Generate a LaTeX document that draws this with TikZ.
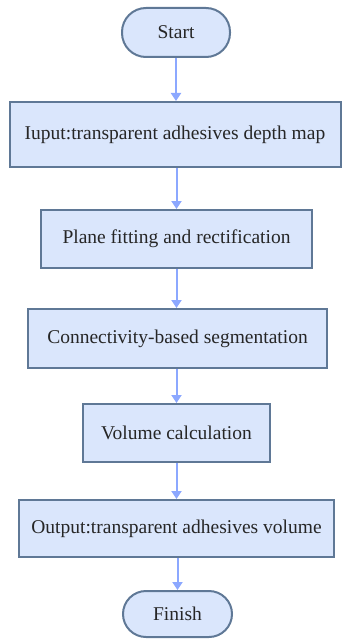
\documentclass[tikz,border=0pt]{standalone}
\usepackage{fontspec}
\setmainfont{Liberation Serif}
\usetikzlibrary{arrows.meta}
\definecolor{boxfill}{HTML}{DAE6FC}
\definecolor{boxline}{HTML}{5F7896}
\definecolor{arrowc}{HTML}{8CA8FF}
\begin{document}
\begin{tikzpicture}[x=1pt,y=-1pt,
  stepbox/.style={draw=boxline,fill=boxfill,line width=2pt,font=\fontsize{19.5}{22}\selectfont,text=black!85,inner sep=0pt},
  arr/.style={draw=arrowc,line width=2pt,-{Triangle[length=8pt,width=10pt]}}]
\useasboundingbox (0,0) rectangle (342,639);
\node[stepbox,rounded corners=24pt,minimum width=108pt,minimum height=49pt] (start) at (176,32.5) {Start};
\node[stepbox,minimum width=331pt,minimum height=65pt] (in) at (175,134.5) {Iuput:transparent adhesives depth map};
\node[stepbox,minimum width=271pt,minimum height=58pt] (plane) at (176.5,239) {Plane fitting and rectification};
\node[stepbox,minimum width=299pt,minimum height=59pt] (seg) at (177.5,338.5) {Connectivity-based segmentation};
\node[stepbox,minimum width=187pt,minimum height=58pt] (vol) at (176.5,433) {Volume calculation};
\node[stepbox,minimum width=315pt,minimum height=57pt] (out) at (176.5,528.5) {Output:transparent adhesives volume};
\node[stepbox,rounded corners=23pt,minimum width=109pt,minimum height=46pt] (fin) at (177.5,614) {Finish};
\draw[arr] (start) -- (start|-in.north);
\draw[arr] (in.south-|plane) -- (plane);
\draw[arr] (plane) -- (plane|-seg.north);
\draw[arr] (seg.south-|vol) -- (vol);
\draw[arr] (vol) -- (vol|-out.north);
\draw[arr] (out.south-|fin) -- (fin);
\end{tikzpicture}
\end{document}
